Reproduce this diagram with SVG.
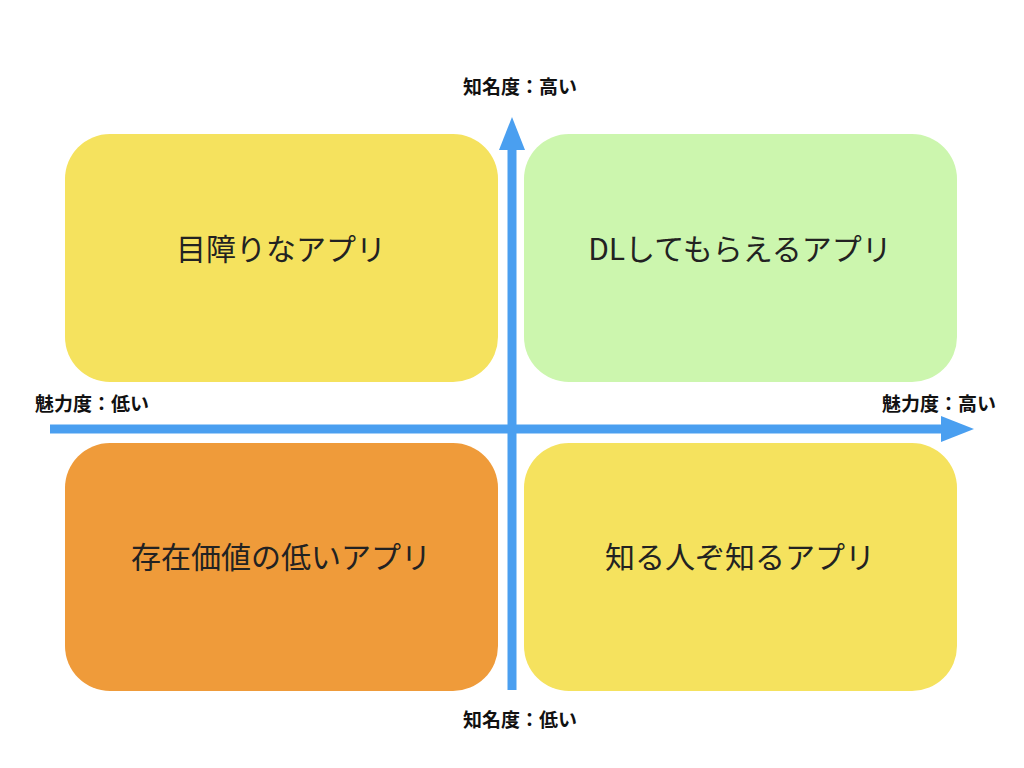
<svg xmlns="http://www.w3.org/2000/svg" width="1024" height="768" viewBox="0 0 1024 768">
<style>
.box{stroke:none}
.t{font-family:"Noto Sans CJK JP","Noto Sans",sans-serif;font-size:30px;fill:#222;text-anchor:middle}
.l{font-family:"Noto Sans CJK JP","Noto Sans",sans-serif;font-size:19px;font-weight:bold;fill:#111}
.ax{stroke:#4A9FF0;stroke-width:9;fill:none}
</style>
<rect width="1024" height="768" fill="#fff"/>
<g id="n1"><rect class="box" x="65" y="134" width="433" height="248" rx="45" fill="#F5E25E"/><text class="t" x="281" y="260">目障りなアプリ</text></g>
<g id="n2"><rect class="box" x="524" y="134" width="433" height="248" rx="45" fill="#CCF6AE"/><text class="t" x="740" y="260">DLしてもらえるアプリ</text></g>
<g id="n3"><rect class="box" x="65" y="443" width="433" height="248" rx="45" fill="#EF9B3A"/><text class="t" x="281" y="568">存在価値の低いアプリ</text></g>
<g id="n4"><rect class="box" x="524" y="443" width="433" height="248" rx="45" fill="#F5E25E"/><text class="t" x="740" y="568">知る人ぞ知るアプリ</text></g>
<g id="connectors">
<line class="ax" x1="512" y1="690" x2="512" y2="145"/>
<polygon points="512,117 525,150 499,150" fill="#4A9FF0"/>
<line class="ax" x1="50" y1="429" x2="945" y2="429"/>
<polygon points="974,429 941,416 941,442" fill="#4A9FF0"/>
</g>
<text class="l" x="520" y="94" text-anchor="middle">知名度：高い</text>
<text class="l" x="520" y="727" text-anchor="middle">知名度：低い</text>
<text class="l" x="35" y="411">魅力度：低い</text>
<text class="l" x="996" y="411" text-anchor="end">魅力度：高い</text>
</svg>
